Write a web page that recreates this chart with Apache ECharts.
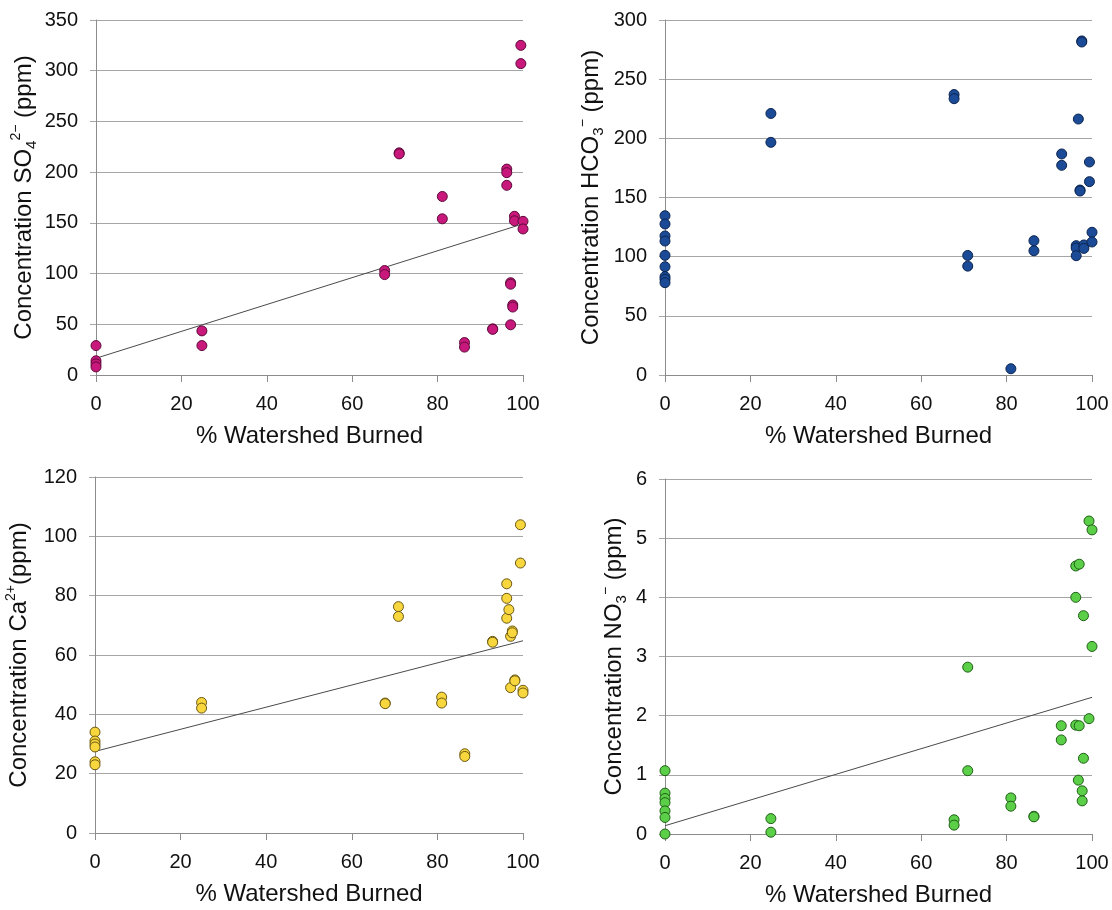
<!DOCTYPE html>
<html>
<head>
<meta charset="utf-8">
<script src="https://cdn.jsdelivr.net/npm/echarts@6/dist/echarts.min.js"></script>
<style>
html,body{margin:0;padding:0;background:#fff;}
#chart{width:1112px;height:910px;}
</style>
</head>
<body>
<div id="chart"></div>
<script>
// ---- data ----
const xTicks = [0, 20, 40, 60, 80, 100];
const xTitle = '% Watershed Burned';

const so4X = [0,0,0,0, 24.8,24.8, 67.6,67.6, 71,71, 81.1,81.1, 86.3,86.3, 92.9,92.9, 96.2,96.2,96.2, 97.1,97.1,97.1, 97.6,97.6, 98,98, 99.5,99.5, 100,100];
const so4Y = [29,14,11,8, 43.5,29, 103,99, 219,218, 176,154, 32,27.5, 45.5,45, 203,199.5,187, 91,89.5,49.5, 69,67, 156.5,152, 325,307, 151.5,144];
const so4Trend = [[0,16.5],[100,149]];

const hco3X = [0,0,0,0,0,0,0,0,0, 24.8,24.8, 67.7,67.7, 70.9,70.9, 81, 86.4,86.4, 92.9,92.9, 96.3,96.3,96.3, 96.8, 97.2,97.2, 97.6,97.6, 98.1,98.1, 99.4,99.4, 100,100];
const hco3Y = [134.6,127.6,117.5,113.2,101.1,91.5,83.1,80.9,78, 221,196.6, 237,233.5, 101,92, 5.3, 113.5,105, 186.8,177.2, 109.3,107.3,100.8, 216.3, 156.3,155.5, 282.3,281.4, 109.9,107, 180,163.4, 120.6,112.4];

const caX = [0,0,0,0,0,0, 24.9,24.9, 67.8,67.8, 70.9,70.9, 81,81, 86.4,86.4, 92.9,92.9, 96.2,96.2,96.2, 96.7, 97.1,97.1, 97.5,97.5, 98.1,98.1, 99.4,99.4, 100,100];
const caY = [34,31,30,29,24,23, 44,42.1, 43.8,43.6, 76.3,73, 45.8,43.8, 26.7,25.8, 64.6,64.3, 84,79.1,72.4, 75.3, 66.3,49, 68.1,67.5, 51.6,51.3, 103.9,91, 48.1,47.2];
const caTrend = [[0,27.5],[100,64.8]];

const no3X = [0,0,0,0,0,0,0, 24.8,24.8, 67.7,67.7, 70.9,70.9, 81,81, 86.4,86.4, 92.8,92.8, 96.2,96.2,96.2, 97,97, 96.8, 97.7,97.7, 98,98, 99.3,99.3, 100,100];
const no3Y = [1.07,0.69,0.6,0.53,0.39,0.28,0.0, 0.26,0.03, 0.24,0.15, 2.82,1.07, 0.61,0.47, 0.3,0.29, 1.83,1.59, 4.53,4.0,1.84, 4.56,1.83, 0.91, 0.73,0.56, 3.69,1.28, 5.29,1.95, 5.14,3.17];
const no3Trend = [[0,0.14],[100,2.31]];

// ---- build chart ----
const zip = (xs, ys) => xs.map((x, i) => [x, ys[i]]);
const FONT = '"Liberation Sans", Arial, sans-serif';
const AXIS_COLOR = '#8c8c8c';
const GRID_COLOR = '#a6a6a6';

const richBase = {
  a: { fontSize: 24, fontFamily: FONT, color: '#111', lineHeight: 30 },
  sub: { fontSize: 15, fontFamily: FONT, color: '#111', lineHeight: 14, verticalAlign: 'bottom' },
  sup: { fontSize: 14, fontFamily: FONT, color: '#111', lineHeight: 14, verticalAlign: 'top' }
};

const grids = [
  { left: 96, top: 20, width: 427, height: 355 },
  { left: 665, top: 20, width: 427, height: 355 },
  { left: 95, top: 477, width: 428, height: 356 },
  { left: 665, top: 479, width: 427, height: 355 }
];

function xAxis(idx) {
  return {
    type: 'value', gridIndex: idx, min: 0, max: 100, interval: 20,
    name: xTitle, nameLocation: 'middle', nameGap: 49,
    nameTextStyle: { fontSize: 24, fontFamily: FONT, color: '#111' },
    axisLine: { show: true, lineStyle: { color: AXIS_COLOR, width: 1 } },
    axisTick: { show: true, length: 7, lineStyle: { color: AXIS_COLOR } },
    axisLabel: { fontSize: 20, fontFamily: FONT, color: '#111', margin: 19 },
    splitLine: { show: false }
  };
}
function yAxis(idx, max, interval, name, gap) {
  return {
    type: 'value', gridIndex: idx, min: 0, max: max, interval: interval,
    name: name, nameLocation: 'middle', nameGap: gap,
    nameTextStyle: { rich: richBase, fontSize: 24, fontFamily: FONT, color: '#111' },
    axisLine: { show: true, onZero: false, lineStyle: { color: AXIS_COLOR, width: 1 } },
    axisTick: { show: true, length: 6, lineStyle: { color: GRID_COLOR } },
    axisLabel: { fontSize: 20, fontFamily: FONT, color: '#111', margin: 18 },
    splitLine: { show: true, lineStyle: { color: GRID_COLOR, width: 1 } }
  };
}
function scatter(idx, data, fill, border) {
  return {
    type: 'scatter', xAxisIndex: idx, yAxisIndex: idx, data: data,
    symbol: 'circle', symbolSize: 10, z: 3,
    itemStyle: { color: fill, borderColor: border, borderWidth: 1, opacity: 1 }
  };
}
function trend(idx, data) {
  return {
    type: 'line', xAxisIndex: idx, yAxisIndex: idx, data: data,
    symbol: 'none', silent: true, z: 2,
    lineStyle: { color: '#4a4a4a', width: 1 }
  };
}

const option = {
  backgroundColor: '#fff',
  animation: false,
  grid: grids,
  xAxis: [xAxis(0), xAxis(1), xAxis(2), xAxis(3)],
  yAxis: [
    yAxis(0, 350, 50, '{a|Concentration SO}{sub|4}{sup|2−}{a| (ppm)}', 57),
    yAxis(1, 300, 50, '{a|Concentration HCO}{sub|3}{sup|−}{a| (ppm)}', 59),
    yAxis(2, 120, 20, '{a|Concentration Ca}{sup|2+}{a|(ppm)}', 61),
    yAxis(3, 6, 1, '{a|Concentration NO}{sub|3}{sup|−}{a| (ppm)}', 36)
  ],
  series: [
    trend(0, so4Trend),
    scatter(0, zip(so4X, so4Y), '#c8187c', '#5e0a3a'),
    scatter(1, zip(hco3X, hco3Y), '#1b4a96', '#0c2550'),
    trend(2, caTrend),
    scatter(2, zip(caX, caY), '#f8d73e', '#6a5712'),
    trend(3, no3Trend),
    scatter(3, zip(no3X, no3Y), '#5ccf48', '#1f5f16')
  ]
};

const chart = echarts.init(document.getElementById('chart'), null, { renderer: 'canvas' });
chart.setOption(option);
</script>
</body>
</html>
